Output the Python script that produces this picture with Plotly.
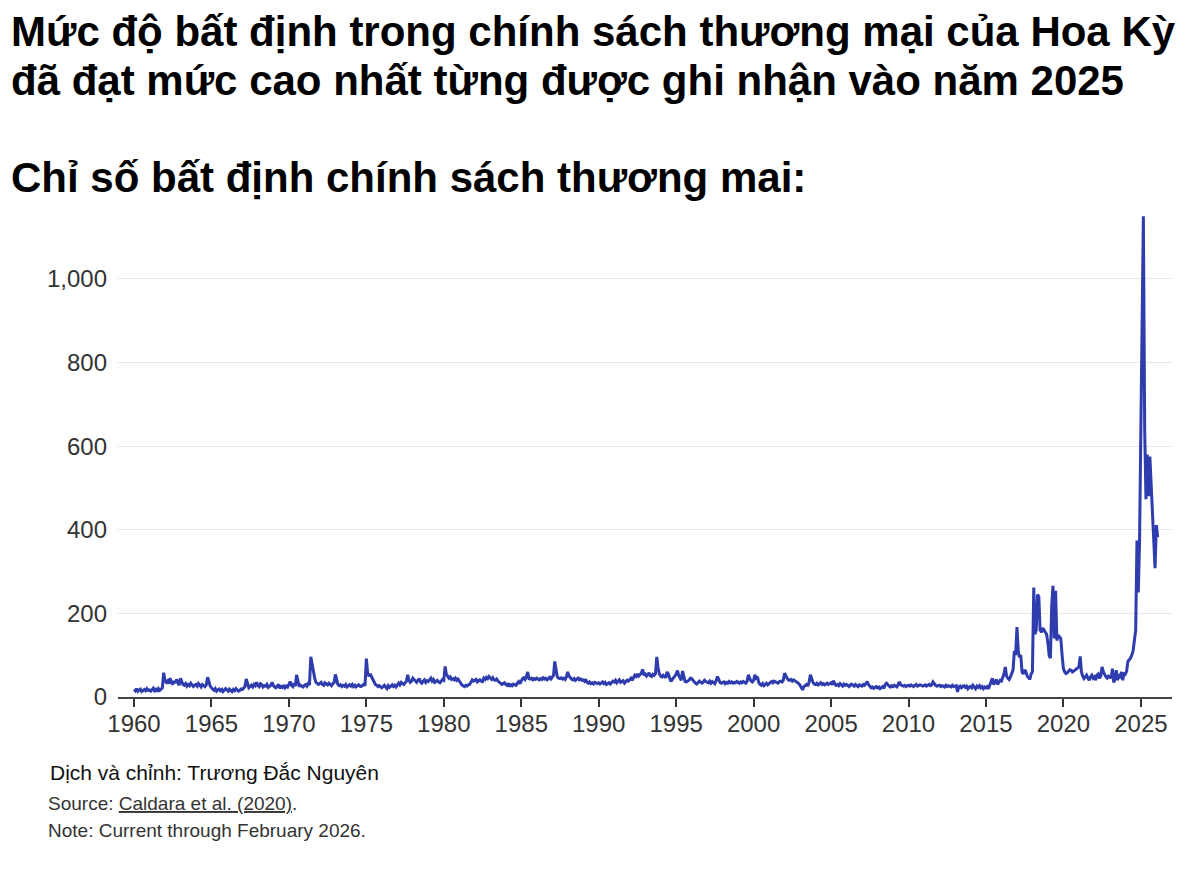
import pandas as pd
import plotly.graph_objects as go

# Monthly trade policy uncertainty index
tpu_1960s = [
    18, 15, 20, 14, 17, 19, 13, 16, 18, 15, 20, 16,
    17, 14, 19, 21, 15, 18, 13, 20, 16, 19, 22, 58,
    40, 35, 38, 32, 45, 36, 30, 38, 34, 42, 33, 28,
    45, 38, 30, 28, 32, 26, 30, 27, 33, 29, 25, 28,
    30, 26, 32, 28, 24, 30, 27, 25, 29, 47, 38, 26,
    22, 18, 16, 20, 14, 17, 19, 15, 18, 13, 16, 20,
    17, 14, 19, 16, 13, 18, 15, 20, 17, 14, 16, 19,
    18, 22, 25, 43, 30, 22, 25, 28, 24, 30, 27, 35,
    28, 25, 32, 30, 24, 27, 26, 30, 23, 25, 28, 35,
    27, 24, 22, 26, 30, 21, 25, 23, 28, 22, 26, 24,
]
tpu_1970s = [
    30, 37, 28, 25, 33, 26, 53, 40, 25, 28, 26, 24,
    28, 30, 26, 32, 29, 96, 80, 60, 45, 35, 33, 30,
    32, 35, 30, 28, 34, 31, 29, 33, 30, 27, 32, 34,
    54, 40, 30, 27, 29, 25, 28, 26, 30, 24, 27, 29,
    26, 30, 25, 28, 24, 27, 29, 26, 25, 28, 30, 27,
    92, 57, 50, 55, 49, 40, 35, 30, 28, 25, 27, 24,
    22, 25, 28, 24, 20, 27, 23, 26, 29, 25, 28, 24,
    30, 33, 29, 35, 32, 30, 34, 37, 53, 40, 35, 38,
    45, 42, 38, 35, 40, 44, 36, 33, 38, 41, 35, 39,
    37, 40, 45, 38, 42, 35, 37, 40, 36, 34, 38, 42,
]
tpu_1980s = [
    40, 73, 55, 50, 45, 48, 42, 44, 41, 45, 40, 43,
    38, 35, 29, 27, 25, 28, 26, 29, 30, 35, 41, 38,
    40, 42, 36, 39, 41, 38, 37, 45, 42, 47, 44, 49,
    45, 42, 46, 41, 40, 43, 38, 35, 33, 30, 32, 34,
    30, 28, 33, 25, 29, 27, 31, 30, 28, 33, 37, 32,
    40, 44, 46, 42, 48, 60, 44, 43, 45, 41, 44, 42,
    45, 43, 41, 44, 42, 46, 43, 45, 41, 44, 47, 43,
    48, 52, 85, 60, 48, 45, 44, 46, 43, 45, 42, 48,
    60, 50, 45, 43, 41, 44, 40, 42, 45, 41, 43, 40,
    41, 38, 42, 35, 33, 36, 32, 34, 31, 35, 33, 32,
]
tpu_1990s = [
    34, 31, 33, 36, 32, 35, 30, 33, 34, 31, 35, 38,
    36, 40, 34, 38, 41, 35, 37, 39, 33, 36, 40, 38,
    42, 45, 40, 48, 52, 49, 55, 50, 53, 57, 66, 52,
    55, 50, 53, 58, 51, 49, 54, 52, 56, 96, 70, 55,
    50, 48, 52, 49, 46, 60, 55, 45, 37, 42, 48, 50,
    55, 63, 52, 45, 40, 62, 50, 37, 36, 38, 40, 45,
    44, 40, 36, 33, 31, 34, 38, 35, 33, 36, 40, 37,
    36, 34, 38, 33, 37, 35, 32, 39, 49, 42, 35, 33,
    34, 36, 32, 35, 33, 37, 34, 36, 33, 35, 34, 37,
    35, 33, 36, 34, 37, 35, 33, 38, 53, 45, 38, 36,
]
tpu_2000s = [
    40, 53, 45, 48, 35, 30, 28, 32, 27, 30, 33, 29,
    31, 35, 37, 34, 38, 36, 35, 33, 37, 38, 36, 40,
    57, 48, 45, 41, 40, 42, 38, 41, 39, 37, 35, 32,
    28, 22, 17, 25, 28, 30, 26, 35, 53, 42, 35, 31,
    30, 33, 29, 31, 34, 30, 32, 29, 31, 33, 30, 32,
    34, 30, 39, 31, 28, 30, 27, 32, 29, 26, 31, 28,
    30, 27, 25, 29, 31, 28, 26, 30, 27, 25, 29, 28,
    26, 30, 28, 32, 37, 30, 25, 22, 24, 21, 23, 25,
    22, 24, 20, 23, 25, 21, 30, 33, 28, 26, 24, 27,
    25, 28, 26, 24, 30, 36, 29, 27, 26, 28, 25, 27,
]
tpu_2010s = [
    28, 26, 29, 27, 25, 28, 30, 26, 27, 29, 28, 26,
    27, 29, 26, 28, 30, 27, 29, 36, 30, 28, 26, 27,
    28, 25, 27, 26, 24, 28, 25, 27, 26, 24, 28, 25,
    26, 27, 12, 24, 26, 22, 25, 27, 23, 26, 20, 24,
    25, 22, 28, 24, 20, 26, 23, 27, 22, 25, 20, 24,
    22, 25, 20, 28, 35, 45, 30, 38, 42, 30, 35, 40,
    38, 45, 55, 72, 50, 45, 42, 48, 60, 65, 110, 100,
    167, 110, 95, 100, 60, 55, 65, 60, 50, 45, 42, 55,
    60, 262, 150, 160, 245, 240, 160, 155, 165, 160, 155, 150,
    130, 98, 93, 220, 266, 140, 254, 135, 148, 143, 140, 101,
]
tpu_2020s = [
    68, 60, 56, 58, 62, 65, 64, 60, 62, 64, 66, 70,
    72, 97, 60, 50, 44, 48, 52, 45, 40, 48, 52, 45,
    48, 40, 52, 55, 45, 50, 72, 60, 52, 48, 45, 50,
    48, 45, 68, 35, 42, 64, 40, 55, 45, 60, 40, 58,
    55, 62, 85, 88, 93, 100, 110, 135, 160, 374, 250, 374,
    620, 880, 1150, 640, 473, 580, 480, 575, 500, 430, 360, 308,
    411, 382,
]

values = tpu_1960s + tpu_1970s + tpu_1980s + tpu_1990s + tpu_2000s + tpu_2010s + tpu_2020s
months = pd.date_range("1960-01-01", periods=len(values), freq="MS")

y_ticks = [0, 200, 400, 600, 800, 1000]
x_tick_years = list(range(1960, 2030, 5))

title_line1 = "Mức độ bất định trong chính sách thương mại của Hoa Kỳ"
title_line2 = "đã đạt mức cao nhất từng được ghi nhận vào năm 2025"
subtitle = "Chỉ số bất định chính sách thương mai:"
credit = "Dịch và chỉnh: Trương Đắc Nguyên"
source = 'Source: <span style="text-decoration:underline">Caldara et al. (2020)</span>.'
note = "Note: Current through February 2026."

FONT = "Liberation Sans, Arial, Helvetica, sans-serif"
W, H = 1200, 883
L, R, T, B = 118, 28, 212, 186
PW, PH = W - L - R, H - T - B


def py(p):
    return (H - B - p) / PH


def px(p):
    return (p - L) / PW


fig = go.Figure()
fig.add_trace(go.Scatter(
    x=months, y=values, mode="lines",
    line=dict(color="#2e3cae", width=3),
    hovertemplate="%{x|%b %Y}: %{y}<extra></extra>",
))

anns = [
    dict(text=f"<b>{title_line1}</b>", x=px(9), y=py(31), size=42, color="#000"),
    dict(text=f"<b>{title_line2}</b>", x=px(9), y=py(80), size=42, color="#000"),
    dict(text=f"<b>{subtitle}</b>", x=px(9), y=py(177), size=42, color="#000"),
    dict(text=credit, x=px(48), y=py(772), size=21, color="#111"),
    dict(text=source, x=px(46), y=py(803), size=19, color="#333"),
    dict(text=note, x=px(46), y=py(830), size=19, color="#333"),
]
for a in anns:
    fig.add_annotation(
        text=a["text"], x=a["x"], y=a["y"], xref="paper", yref="paper",
        xanchor="left", yanchor="middle", showarrow=False,
        font=dict(family=FONT, size=a["size"], color=a["color"]),
    )

fig.update_layout(
    width=W, height=H,
    margin=dict(l=L, r=R, t=T, b=B, autoexpand=False),
    paper_bgcolor="white", plot_bgcolor="white",
    showlegend=False,
    font=dict(family=FONT, color="#333"),
    xaxis=dict(
        type="date",
        range=["1958-12-20", "2027-01-05"],
        tickvals=[pd.Timestamp(f"{y}-01-01") for y in x_tick_years],
        ticktext=[str(y) for y in x_tick_years],
        ticks="outside", ticklen=8, tickwidth=1.5, tickcolor="#333",
        showline=True, linecolor="#444", linewidth=1.5,
        showgrid=False, zeroline=False,
        tickfont=dict(family=FONT, size=24, color="#333"),
        ticklabelstandoff=-4,
    ),
    yaxis=dict(
        range=[0, 1160],
        tickvals=y_ticks,
        ticktext=[f"{v:,}" for v in y_ticks],
        ticks="", showline=False, zeroline=False,
        showgrid=True, gridcolor="#e8e8e8", gridwidth=1,
        tickfont=dict(family=FONT, size=24, color="#333"),
        ticklabelstandoff=10,
    ),
)

fig.write_html(
    "out.html",
    config={"displayModeBar": False},
    post_script="document.body.style.margin='0px';",
)
